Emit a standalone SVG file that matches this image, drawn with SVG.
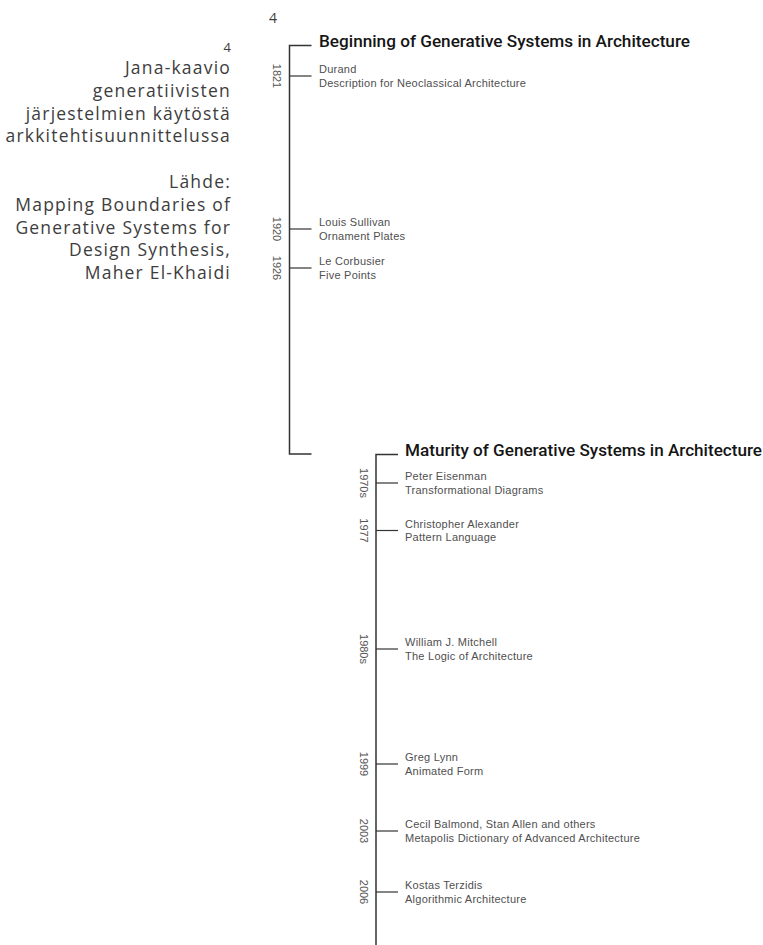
<svg xmlns="http://www.w3.org/2000/svg" width="763" height="945" viewBox="0 0 763 945">
  <style>
    .caption { font-family: "Open Sans", "Noto Sans", sans-serif; font-size: 17.5px; letter-spacing: 1.2px; fill: #3d3d3d; text-anchor: end; }
    .caption-num { font-family: "Open Sans", "Noto Sans", sans-serif; font-size: 13px; fill: #3d3d3d; text-anchor: end; }
    .pagenum { font-family: "Open Sans", "Noto Sans", sans-serif; font-size: 14px; fill: #3d3d3d; }
    .title { font-family: Roboto, "Liberation Sans", sans-serif; font-weight: 500; font-size: 16px; fill: #151515; }
    .entry { font-family: "Liberation Sans", Arial, sans-serif; font-size: 11px; letter-spacing: 0.25px; fill: #4f4f4f; }
    .year { font-family: "Liberation Sans", Arial, sans-serif; font-size: 11px; fill: #555; text-anchor: middle; }
    .spine { stroke: #333; stroke-width: 1.5; fill: none; }
    .tick { stroke: #333; stroke-width: 1.2; fill: none; }
  </style>

  <rect width="763" height="945" fill="#ffffff"/>

  <!-- caption block -->
  <g id="caption">
    <text class="caption-num" x="231" y="51.5">4</text>
    <text class="caption" x="231" y="74">Jana-kaavio</text>
    <text class="caption" x="231" y="96.75">generatiivisten</text>
    <text class="caption" x="231" y="119.5">järjestelmien käytöstä</text>
    <text class="caption" x="231" y="142.25">arkkitehtisuunnittelussa</text>
    <text class="caption" x="231" y="188">Lähde:</text>
    <text class="caption" x="231" y="210.75">Mapping Boundaries of</text>
    <text class="caption" x="231" y="233.5">Generative Systems for</text>
    <text class="caption" x="231" y="256.25">Design Synthesis,</text>
    <text class="caption" x="231" y="279">Maher El-Khaidi</text>
  </g>

  <text id="figure-number" class="pagenum" x="269" y="23">4</text>

  <!-- timeline spines, brackets and ticks -->
  <g id="connectors">
    <path class="spine" d="M311.5 45.5 H289.5 V454 H311.5"/>
    <path class="spine" d="M398 454.5 H376 V945"/>
    <path class="tick" d="M289.5 76 H311.5"/>
    <path class="tick" d="M289.5 229 H311.5"/>
    <path class="tick" d="M289.5 268 H311.5"/>
    <path class="tick" d="M376 483 H398"/>
    <path class="tick" d="M376 530.5 H398"/>
    <path class="tick" d="M376 649 H398"/>
    <path class="tick" d="M376 764 H398"/>
    <path class="tick" d="M376 831 H398"/>
    <path class="tick" d="M376 892 H398"/>
  </g>

  <g id="title-beginning">
    <text class="title" x="319" y="47" textLength="371" lengthAdjust="spacingAndGlyphs">Beginning of Generative Systems in Architecture</text>
  </g>

  <g id="entry-1821">
    <text class="year" transform="translate(273 76) rotate(90)">1821</text>
    <text class="entry" x="319" y="73">Durand</text>
    <text class="entry" x="319" y="86.5">Description for Neoclassical Architecture</text>
  </g>

  <g id="entry-1920">
    <text class="year" transform="translate(273 229) rotate(90)">1920</text>
    <text class="entry" x="319" y="226">Louis Sullivan</text>
    <text class="entry" x="319" y="239.5">Ornament Plates</text>
  </g>

  <g id="entry-1926">
    <text class="year" transform="translate(273 268) rotate(90)">1926</text>
    <text class="entry" x="319" y="265">Le Corbusier</text>
    <text class="entry" x="319" y="278.5">Five Points</text>
  </g>

  <g id="title-maturity">
    <text class="title" x="405" y="456" textLength="357" lengthAdjust="spacingAndGlyphs">Maturity of Generative Systems in Architecture</text>
  </g>

  <g id="entry-1970s">
    <text class="year" transform="translate(360 483) rotate(90)">1970s</text>
    <text class="entry" x="405" y="480">Peter Eisenman</text>
    <text class="entry" x="405" y="493.5">Transformational Diagrams</text>
  </g>

  <g id="entry-1977">
    <text class="year" transform="translate(360 530.5) rotate(90)">1977</text>
    <text class="entry" x="405" y="527.5">Christopher Alexander</text>
    <text class="entry" x="405" y="541">Pattern Language</text>
  </g>

  <g id="entry-1980s">
    <text class="year" transform="translate(360 649) rotate(90)">1980s</text>
    <text class="entry" x="405" y="646">William J. Mitchell</text>
    <text class="entry" x="405" y="659.5">The Logic of Architecture</text>
  </g>

  <g id="entry-1999">
    <text class="year" transform="translate(360 764) rotate(90)">1999</text>
    <text class="entry" x="405" y="761">Greg Lynn</text>
    <text class="entry" x="405" y="774.5">Animated Form</text>
  </g>

  <g id="entry-2003">
    <text class="year" transform="translate(360 831) rotate(90)">2003</text>
    <text class="entry" x="405" y="828">Cecil Balmond, Stan Allen and others</text>
    <text class="entry" x="405" y="841.5">Metapolis Dictionary of Advanced Architecture</text>
  </g>

  <g id="entry-2006">
    <text class="year" transform="translate(360 892) rotate(90)">2006</text>
    <text class="entry" x="405" y="889">Kostas Terzidis</text>
    <text class="entry" x="405" y="902.5">Algorithmic Architecture</text>
  </g>
</svg>
